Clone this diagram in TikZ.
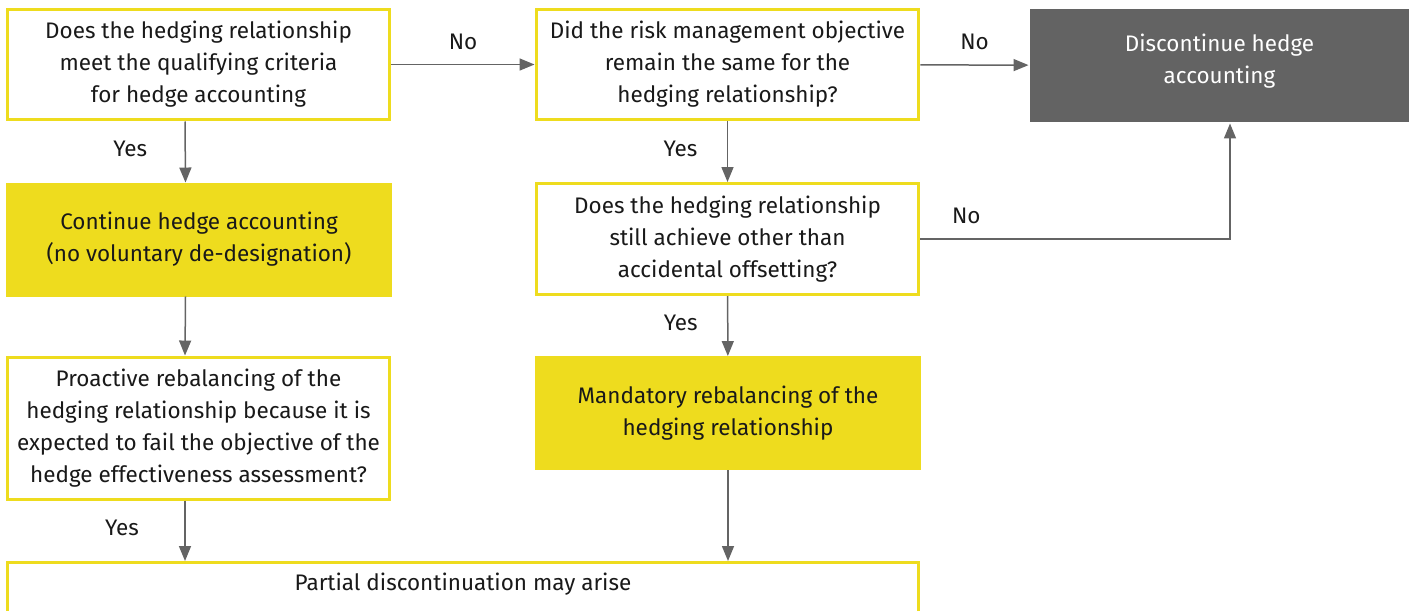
\documentclass[tikz,border=0pt]{standalone}
\usepackage{fontspec}
\setmainfont{Fira Sans}
\usetikzlibrary{arrows.meta}
\definecolor{eyyellow}{RGB}{238,220,30}
\definecolor{eygray}{RGB}{99,99,99}
\definecolor{linegray}{RGB}{100,100,100}
\begin{document}
\begin{tikzpicture}[x=0.02cm, y=-0.02cm,
    box/.style={draw=eyyellow, line width=0.06cm, fill=white, align=center,
        minimum width=7.66cm, minimum height=2.22cm, inner sep=0pt,
        text=black!90, font=\fontsize{12.8}{18.2}\selectfont},
    filled/.style={box, fill=eyyellow},
    stopbox/.style={box, draw=none, fill=eygray, text=white},
    arr/.style={draw=linegray, line width=0.03cm, -{Triangle[length=0.3cm, width=0.24cm]}},
    lbl/.style={font=\fontsize{12.8}{18.2}\selectfont, text=black!90}]
\useasboundingbox (0,0) rectangle (1413,610);
\clip (0,0) rectangle (1413,610);

% top row
\node[box] (qualify) at (198.5,64.5) {Does the hedging relationship\\meet the qualifying criteria\\for hedge accounting};
\node[box] (objective) at (727.5,64.5) {Did the risk management objective\\remain the same for the\\hedging relationship?};
\node[stopbox, minimum width=7.58cm, minimum height=2.26cm] (discont) at (1219.5,65.5) {Discontinue hedge\\accounting\\[-0.38cm]};

% middle rows
\node[filled] (continue) at (199,239.5) {Continue hedge accounting\\(no voluntary de-designation)};
\node[box] (offset) at (727.5,239) {Does the hedging relationship\\still achieve other than\\accidental offsetting?};
\node[box, minimum height=2.84cm] (proactive) at (198.5,428) {Proactive rebalancing of the\\hedging relationship because it is\\expected to fail the objective of the\\hedge effectiveness assessment?};
\node[filled] (mandatory) at (728,413) {Mandatory rebalancing of the\\hedging relationship};

% bottom box, cut by the page edge
\node[box, anchor=north, minimum width=18.24cm, minimum height=0pt,
    text height=0.56cm, text depth=1.6cm] (partial) at (463,561) {Partial discontinuation may arise};

% connectors
\draw[arr] (qualify) -- node[lbl, yshift=0.46cm] {No} (objective);
\draw[arr] (objective) -- node[lbl, yshift=0.46cm] {No} (discont);
\draw[arr] ([xshift=-0.27cm]qualify.south) -- node[lbl, xshift=-1.1cm, yshift=0.06cm] {Yes} ([xshift=-0.27cm]continue.north);
\draw[arr] (objective) -- node[lbl, xshift=-0.94cm, yshift=0.06cm] {Yes} (offset);
\draw[arr] (offset.east) -| node[lbl, pos=0.074, yshift=0.46cm] {No} ([xshift=0.21cm]discont.south);
\draw[arr] ([xshift=-0.27cm]continue.south) -- ([xshift=-0.27cm]proactive.north);
\draw[arr] (offset) -- node[lbl, xshift=-0.94cm, yshift=0.06cm] {Yes} (mandatory);
\draw[arr] ([xshift=-0.27cm]proactive.south) -- node[lbl, xshift=-1.26cm, yshift=0.06cm] {Yes} ([xshift=-0.27cm]proactive.south |- partial.north);
\draw[arr] (mandatory) -- (mandatory |- partial.north);
\end{tikzpicture}
\end{document}
